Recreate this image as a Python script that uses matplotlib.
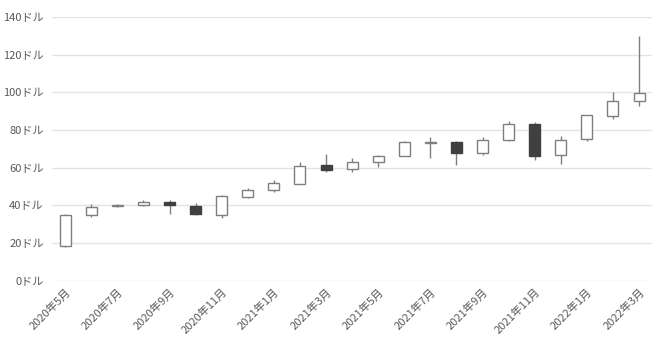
import matplotlib
matplotlib.use('Agg')
import matplotlib.pyplot as plt
import numpy as np

plt.rcParams['font.family'] = ['Noto Sans CJK JP', 'DejaVu Sans']

# Données mensuelles (ouverture, haut, bas, clôture)
mois = ['2020年5月', '2020年6月', '2020年7月', '2020年8月', '2020年9月', '2020年10月',
        '2020年11月', '2020年12月', '2021年1月', '2021年2月', '2021年3月', '2021年4月',
        '2021年5月', '2021年6月', '2021年7月', '2021年8月', '2021年9月', '2021年10月',
        '2021年11月', '2021年12月', '2022年1月', '2022年2月', '2022年3月']
ouv = [18.5, 35, 39.5, 40, 42, 39.5, 35, 44.5, 48, 51.5, 61.5, 59.5,
       63, 66, 73, 73.5, 68, 74.5, 83, 66.5, 75, 87.5, 95.5]
haut = [35.5, 41, 41, 43, 43, 41.5, 45.5, 49, 53.5, 63, 67.5, 65,
        67, 74, 76.5, 74, 76.5, 85, 84, 77, 88, 100, 130]
bas = [18, 34, 39, 39.5, 35.5, 35, 33.5, 44, 47, 51.5, 57.5, 57.5,
       60.5, 66, 65, 61.5, 66.5, 74, 64, 62, 74, 86, 93]
clo = [35, 39, 40, 42, 40, 35.5, 45, 48, 52, 61, 59, 63,
       66, 73.5, 73.5, 68, 74.5, 83, 66, 74.5, 88, 95.5, 99.5]

yticks = [0, 20, 40, 60, 80, 100, 120, 140]

fig = plt.figure(figsize=(6.6, 3.52), dpi=100)
ax = fig.add_axes([0.079, 0.202, 0.909, 0.75])

x = np.arange(len(mois))
ouv, haut, bas, clo = map(np.array, (ouv, haut, bas, clo))
hausse = clo >= ouv

ax.vlines(x, bas, haut, color='#7f7f7f', lw=1, zorder=2)
bas_corps = np.minimum(ouv, clo)
h_corps = np.maximum(np.abs(clo - ouv), 0.3)
couleurs = np.where(hausse, 'white', '#404040')
bords = np.where(hausse, '#7f7f7f', '#404040')
ax.bar(x, h_corps, bottom=bas_corps, width=0.42, color=couleurs,
       edgecolor=bords, linewidth=1, zorder=3)

ax.set_xlim(-0.5, len(mois) - 0.5)
ax.set_ylim(0, 140)
ax.set_yticks(yticks)
ax.set_yticklabels([f'{v}ドル' for v in yticks])
ax.grid(axis='y', color='#e3e3e3', lw=1, zorder=0)
ax.set_axisbelow(True)

ax.set_xticks(x[::2])
ax.set_xticklabels(mois[::2], rotation=45, ha='right', rotation_mode='anchor')

for s in ax.spines.values():
    s.set_visible(False)
ax.tick_params(length=0, colors='#595959', labelsize=8)
ax.tick_params(axis='y', pad=6)
ax.tick_params(axis='x', pad=4)

plt.savefig('out.png', dpi=100)
